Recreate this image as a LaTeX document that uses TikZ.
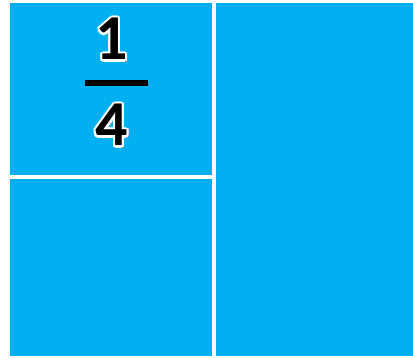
\documentclass[tikz,border=0pt]{standalone}
\usepackage{fontspec}
\setmainfont{Carlito}
\usetikzlibrary{calc}
\definecolor{tileblue}{HTML}{00B0F0}
\definecolor{shadowgray}{HTML}{8C8C8C}
\tikzset{
  tile/.style={fill=tileblue, draw=none, inner sep=0pt, outer sep=0pt},
  digit/.style={font=\bfseries\fontsize{64}{64}\selectfont, inner sep=0pt, anchor=base},
  fracbar/.style={fill=black, draw=none, inner sep=0pt}
}
\newcommand{\outlinedigit}[4]{%
  \node[digit, text=shadowgray] (#4shadow) at (#1+2.2,#2+2.2) {#3};
  \foreach \a in {0,30,...,330}{
    \node[digit, text=white] (#4halo\a) at ($(#1,#2)+(\a:2.2)$) {#3};
  }
  \node[digit, text=black] (#4) at (#1,#2) {#3};
}
\begin{document}
\begin{tikzpicture}[x=1pt,y=-1pt]
\useasboundingbox (0,0) rectangle (413,358);
\fill[white] (0,0) rectangle (413,358);
\node[tile, minimum width=202.5pt, minimum height=172pt] (tl) at (110.75,89) {};
\node[tile, minimum width=202.5pt, minimum height=177.5pt] (bl) at (110.75,267.75) {};
\node[tile, minimum width=197pt, minimum height=353.5pt] (r) at (314.5,179.75) {};
\outlinedigit{112}{60}{1}{num}
\node[fracbar, minimum width=63pt, minimum height=6pt] (bar) at (116.5,83) {};
\outlinedigit{112}{146}{4}{den}
\end{tikzpicture}
\end{document}
